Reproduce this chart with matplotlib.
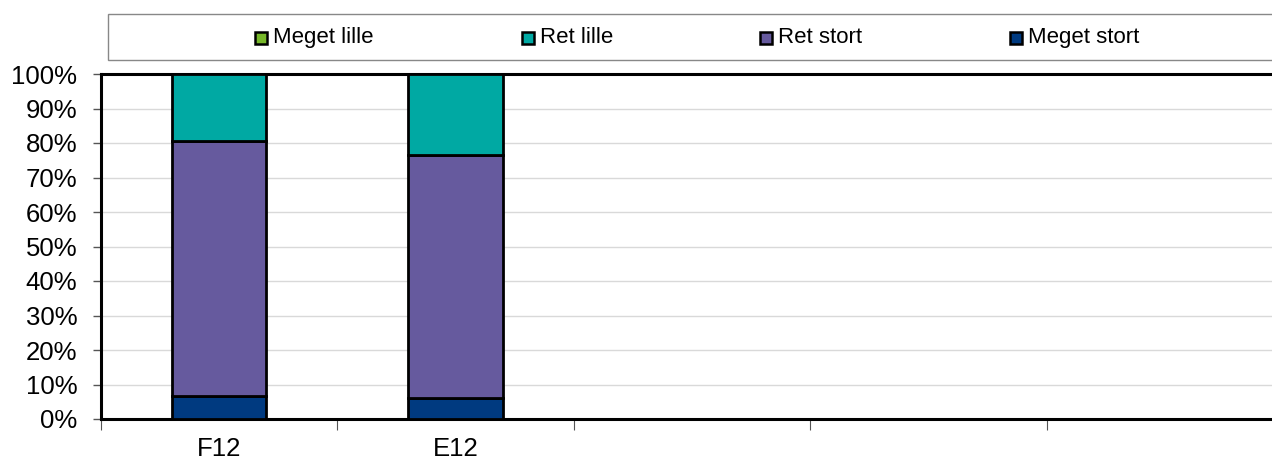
import matplotlib
matplotlib.use("Agg")
import matplotlib.pyplot as plt
from matplotlib.patches import Rectangle
import numpy as np

plt.rcParams['font.family'] = ['Liberation Sans', 'DejaVu Sans']

categories = ["F12", "E12", "", "", ""]
series_names = ["Meget lille", "Ret lille", "Ret stort", "Meget stort"]
meget_lille = [0.0, 0.0, 0, 0, 0]
ret_lille = [19.3, 23.6, 0, 0, 0]
ret_stort = [74.0, 70.3, 0, 0, 0]
meget_stort = [6.7, 6.1, 0, 0, 0]
colors = ["#77B82A", "#00A9A3", "#665A9E", "#003A80"]

W, H = 1272, 462
fig = plt.figure(figsize=(W/100, H/100), dpi=100)
left_px, right_px, top_px, bot_px = 101, 1283, 74, 419
ax = fig.add_axes([left_px/W, 1-bot_px/H, (right_px-left_px)/W, (bot_px-top_px)/H])

x = np.arange(len(categories))
stack_order = [meget_stort, ret_stort, ret_lille, meget_lille]
stack_colors = [colors[3], colors[2], colors[1], colors[0]]
bottom = np.zeros(len(categories))
for vals, c in zip(stack_order, stack_colors):
    v = np.array(vals, dtype=float)
    mask = v > 0
    ax.bar(x[mask], v[mask], bottom=bottom[mask], width=0.4, color=c,
           edgecolor='black', linewidth=2.0, zorder=3)
    bottom += v

ax.set_xlim(-0.5, len(categories)-0.5)
ax.set_ylim(0, 100)
ax.set_yticks(np.arange(0, 101, 10))
ax.set_yticklabels([f"{v}%" for v in range(0, 101, 10)], fontsize=18.5)
ax.yaxis.grid(True, color='#D9D9D9', linewidth=1.0, zorder=0)
ax.set_axisbelow(True)

ax.set_xticks(x)
ax.set_xticklabels(categories, fontsize=18.5)
ax.tick_params(axis='x', which='major', length=0, pad=13)
ax.set_xticks(np.arange(-0.5, len(categories), 1.0), minor=True)
ax.tick_params(axis='x', which='minor', length=8, width=0.8, color='#555555', direction='out')
ax.tick_params(axis='y', length=6, width=1.0, color='#555555', pad=11)

for s in ax.spines.values():
    s.set_color('black')
    s.set_linewidth(2.2)

# legend box
lx0, ly0, lx1, ly1 = 108, 14, 1290, 60
fig.patches.append(Rectangle((lx0/W, 1-ly1/H), (lx1-lx0)/W, (ly1-ly0)/H,
                             transform=fig.transFigure, facecolor='white',
                             edgecolor='#888888', linewidth=1.0))
marker_x = [255, 522, 760, 1010]
for name, c, mx in zip(series_names, colors, marker_x):
    sz = 12
    fig.patches.append(Rectangle((mx/W, 1-(38+sz/2)/H), sz/W, sz/H,
                                 transform=fig.transFigure, facecolor=c,
                                 edgecolor='black', linewidth=1.8))
    fig.text((mx+sz+6)/W, 1-43/H, name, fontsize=16, va='baseline', ha='left')

fig.savefig("out.png", dpi=100)
